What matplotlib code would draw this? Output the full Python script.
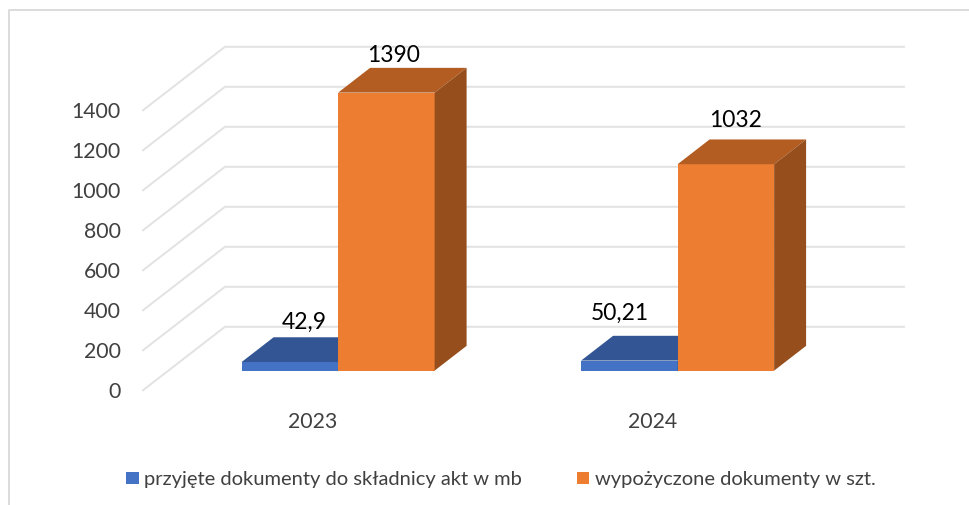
import matplotlib
matplotlib.use('Agg')
from matplotlib import pyplot as plt
from matplotlib.patches import Polygon
import numpy as np

years = ['2023', '2024']
series_names = ['przyjęte dokumenty do składnicy akt w mb', 'wypożyczone dokumenty w szt.']
docs_mb = [42.9, 50.21]
docs_szt = [1390, 1032]
mb_labels = ['42,9', '50,21']
szt_labels = ['1390', '1032']
y_ticks = [0, 200, 400, 600, 800, 1000, 1200, 1400]

plt.rcParams['font.family'] = ['Lato', 'DejaVu Sans']

# pixels per unit of the fake 3d projection
PX_X = 339.5
PX_Y = 0.2
DEPTH_X = 82.0 / PX_X
DEPTH_Y = 63.5 / PX_Y
BAR_D0 = 0.31
BAR_D1 = 0.70
BAR_W = 96.5 / PX_X
ORIGIN_X = 312.7
ORIGIN_Y = 391.3


def project(x, v, d):
    return x + DEPTH_X * d, v + DEPTH_Y * d


def draw_bar(ax, x, v, front, top, side):
    bx, by = project(x, 0, BAR_D0)
    ax.bar(bx, v, BAR_W, bottom=by, align='edge', color=front, linewidth=0, zorder=3)
    ax.add_patch(Polygon([project(x, v, BAR_D0), project(x + BAR_W, v, BAR_D0),
                          project(x + BAR_W, v, BAR_D1), project(x, v, BAR_D1)],
                         closed=True, fc=top, lw=0, zorder=3))
    ax.add_patch(Polygon([project(x + BAR_W, 0, BAR_D0), project(x + BAR_W, v, BAR_D0),
                          project(x + BAR_W, v, BAR_D1), project(x + BAR_W, 0, BAR_D1)],
                         closed=True, fc=side, lw=0, zorder=3))


fig = plt.figure(figsize=(9.7, 5.06), dpi=100)
ax = fig.add_axes([0, 0, 1, 1])
ax.set_xlim(-ORIGIN_X / PX_X, (970 - ORIGIN_X) / PX_X)
ax.set_ylim((ORIGIN_Y - 506) / PX_Y, ORIGIN_Y / PX_Y)
ax.axis('off')

# outer chart frame, cut off right and bottom
ax.plot([9 / 970, 9 / 970, 1], [0, 1 - 11 / 506, 1 - 11 / 506], color='#d9d9d9', lw=1.3,
        transform=ax.transAxes, zorder=1)

# walls
left, right = -0.5, 1.5
for t in y_ticks:
    p0 = project(left, t, 0)
    p1 = project(left, t, 1)
    p2 = project(right, t, 1)
    ax.plot([p0[0], p1[0], p2[0]], [p0[1], p1[1], p2[1]], color='#e2e2e2', lw=1.4,
            solid_joinstyle='miter', zorder=2)
    ax.text(p0[0] - 22 / PX_X, t - 5, str(t), ha='right', va='center', fontsize=15.3, color='#404040')

label_dx = [[14, 7.5], [-10, 10]]
label_dy = [[41, 38], [48, 45]]
for i, year in enumerate(years):
    x_mb = i - BAR_W
    x_szt = i
    draw_bar(ax, x_mb, docs_mb[i], '#4472c4', '#335593', '#2f5597')
    draw_bar(ax, x_szt, docs_szt[i], '#ed7d31', '#b35d22', '#964f1c')

    bx, by = project(x_mb + BAR_W / 2, docs_mb[i], BAR_D0)
    ax.annotate(mb_labels[i], (bx, by), xytext=(label_dx[i][0], label_dy[i][0]),
                textcoords='offset pixels', ha='center', va='center', fontsize=16.5,
                color='black', zorder=5)
    bx, by = project(x_szt + BAR_W / 2, docs_szt[i], BAR_D0)
    ax.annotate(szt_labels[i], (bx, by), xytext=(label_dx[i][1], label_dy[i][1]),
                textcoords='offset pixels', ha='center', va='center', fontsize=16.5,
                color='black', zorder=5)

    ax.text(i, -31 / PX_Y, year, ha='center', va='center', fontsize=15.3, color='#404040')

# legend placed by hand
for name, col, px in zip(series_names, ['#4472c4', '#ed7d31'], [126, 577]):
    ax.add_patch(plt.Rectangle((px / 970, 1 - 485 / 506), 12.5 / 970, 12.5 / 506, fc=col, lw=0,
                               transform=ax.transAxes))
    ax.text((px + 18) / 970, 1 - 480 / 506, name, ha='left', va='center', fontsize=14.5,
            color='#404040', transform=ax.transAxes)

plt.savefig('out.png', dpi=100)
